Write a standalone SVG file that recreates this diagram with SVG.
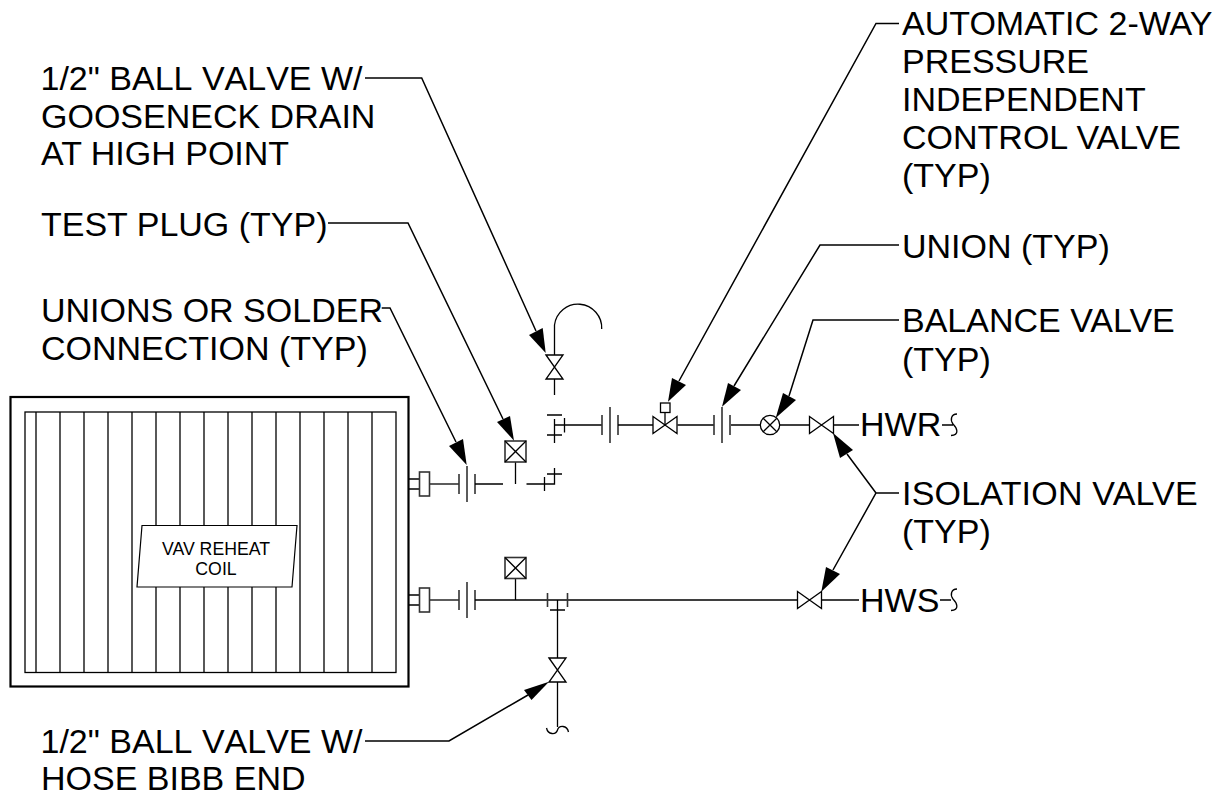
<svg xmlns="http://www.w3.org/2000/svg" width="1224" height="796" viewBox="0 0 1224 796">
<style>
.l{fill:none;stroke:#000;stroke-width:1.3}
.m{fill:none;stroke:#333;stroke-width:1.6}
.b{fill:none;stroke:#000;stroke-width:2.2}
.w{fill:#fff;stroke:#000;stroke-width:1.2}
.a{fill:#000;stroke:none}
text{font-family:"Liberation Sans",Arial,sans-serif;fill:#000}
.t{font-size:34px}
.k{font-kerning:none}
.s{font-size:17.700px}
</style>
<defs>
<g id="union"><path class="m" d="M0 -10V10M8 -18V18M16 -10V10"/></g>
<g id="vh"><path class="l" d="M-12 -8.500L12 8.500V-8.500L-12 8.500Z"/></g>
<g id="vv"><path class="l" d="M-8.500 -12L8.500 12H-8.500L8.500 -12Z"/></g>
<g id="plug"><rect class="m" x="-10.500" y="-10.500" width="21" height="21"/><path class="l" d="M-10.500 -10.500L10.500 10.500M10.500 -10.500L-10.500 10.500"/></g>
</defs>

<g id="coil">
<rect class="b" x="10.500" y="397" width="398" height="289.500"/>
<rect class="l" x="25" y="412" width="371" height="260.500"/>
<path class="l" d="M36 412V672M60 412V672M84 412V672M108 412V672M132 412V672M156 412V672M180 412V672M204 412V672M228 412V672M252 412V672M276 412V672M300 412V672M324 412V672M348 412V672M372 412V672"/>
<path class="w" d="M142 525.500H297L292 587H137Z"/>
<text class="s" x="216" y="555" text-anchor="middle">VAV REHEAT</text>
<text class="s" x="216" y="575" text-anchor="middle">COIL</text>
</g>

<g id="return-piping">
<path class="l" d="M408 479H420M408 489H420"/>
<rect class="m" x="419.500" y="472" width="10" height="24"/>
<path class="m" d="M429.500 484H459"/>
<use href="#union" x="459" y="484"/>
<path class="l" d="M475 484H503M526.500 484H554.500V468M515.500 462V484M547 474H562M544.500 477V491"/>
<g transform="translate(515.500 451.500)"><use href="#plug"/></g>
<path class="l" d="M554.500 443V419M547 435H562M547 415H562M554.500 425H602M564.500 418V432.500"/>
<use href="#union" x="602" y="425"/>
<path class="l" d="M618 425H653M677.500 425H714M731 425H760.500M780 425H809.500M833.500 425H859"/>
<use href="#union" x="714" y="425"/>
<path class="l" d="M554.500 379V395M554.500 355V325A23.700 23.700 0 0 1 601.700 329"/>
<use href="#vv" x="554.500" y="367"/>
<use href="#vh" x="665" y="425"/>
<path class="l" d="M665 425V412"/>
<rect class="l" x="660.500" y="403" width="9.500" height="9.500"/>
<circle class="l" cx="770" cy="425" r="9.700"/>
<path class="l" d="M763.200 418.200L776.800 431.800M776.800 418.200L763.200 431.800"/>
<use href="#vh" x="821.500" y="425"/>
<path class="l" d="M942 425H953M957 414C951 414 950 420 953 424C957 428 960 435 951 435.500"/>
</g>

<g id="supply-piping">
<path class="l" d="M408 595H420M408 605H420"/>
<rect class="m" x="419.500" y="588" width="10" height="24"/>
<path class="m" d="M429.500 600H459"/>
<use href="#union" x="459" y="600"/>
<path class="l" d="M475 600H797.500M515.500 578V600M557.500 600V658M557.500 682V727M550 610H565"/>
<path class="m" d="M547.500 593V607M567.500 593V607"/>
<g transform="translate(515.500 568)"><use href="#plug"/></g>
<use href="#vv" x="557.500" y="670"/>
<path class="l" d="M546.500 728C548 735 556 735 557.500 730C559 725 567 725 568.500 732"/>
<use href="#vh" x="809.500" y="600"/>
<path class="l" d="M821.500 600H859"/>
<path class="l" d="M940 600H951M957 589C951 589 950 595 953 599C957 603 960 610 951 610.500"/>
</g>

<g id="connectors">
<path class="l" style="stroke-width:1.500" d="M365 78H421.700L536 331M328 223H408L503 419M381.700 308H390L456 442M899 23.500H876L679 381M899 245H820L734 386M899 320H813L789 396M899 493H876L833 570M876 493L847 454M365 741H449L528 695"/>
<path class="a" d="M545.700 353L529 335L542.700 328Z"/>
<path class="a" d="M514 440.700L497 422L510 416Z"/>
<path class="a" d="M466.700 465L449 446L463 439Z"/>
<path class="a" d="M668 401.700L672 378L686 385Z"/>
<path class="a" d="M722 406.700L728 383L741 390Z"/>
<path class="a" d="M775.700 418L783 393L796 400Z"/>
<path class="a" d="M833 433L853 450L840 458Z"/>
<path class="a" d="M821.300 591.700L826 567L840 574Z"/>
<path class="a" d="M549 681.700L524 690L531.500 700Z"/>
</g>

<g id="labels">
<text class="t k" x="40.500" y="90">1/2" BALL VALVE W/</text>
<text class="t" x="41" y="128">GOOSENECK DRAIN</text>
<text class="t" x="41" y="165">AT HIGH POINT</text>
<text class="t" x="41" y="236">TEST PLUG (TYP)</text>
<text class="t" x="41" y="322">UNIONS OR SOLDER</text>
<text class="t" x="41" y="360">CONNECTION (TYP)</text>
<text class="t k" x="40.500" y="752.500">1/2" BALL VALVE W/</text>
<text class="t" x="41" y="790">HOSE BIBB END</text>
<text class="t" x="902" y="35">AUTOMATIC 2-WAY</text>
<text class="t" x="902" y="73">PRESSURE</text>
<text class="t" x="902" y="111">INDEPENDENT</text>
<text class="t" x="902" y="149">CONTROL VALVE</text>
<text class="t" x="902" y="187">(TYP)</text>
<text class="t" x="902" y="258">UNION (TYP)</text>
<text class="t" x="902" y="332">BALANCE VALVE</text>
<text class="t" x="902" y="370.500">(TYP)</text>
<text class="t" x="902" y="504.500" style="letter-spacing:.2px">ISOLATION VALVE</text>
<text class="t" x="902" y="542.500">(TYP)</text>
<text class="t" x="860" y="436">HWR</text>
<text class="t" x="860" y="612">HWS</text>
</g>
</svg>
